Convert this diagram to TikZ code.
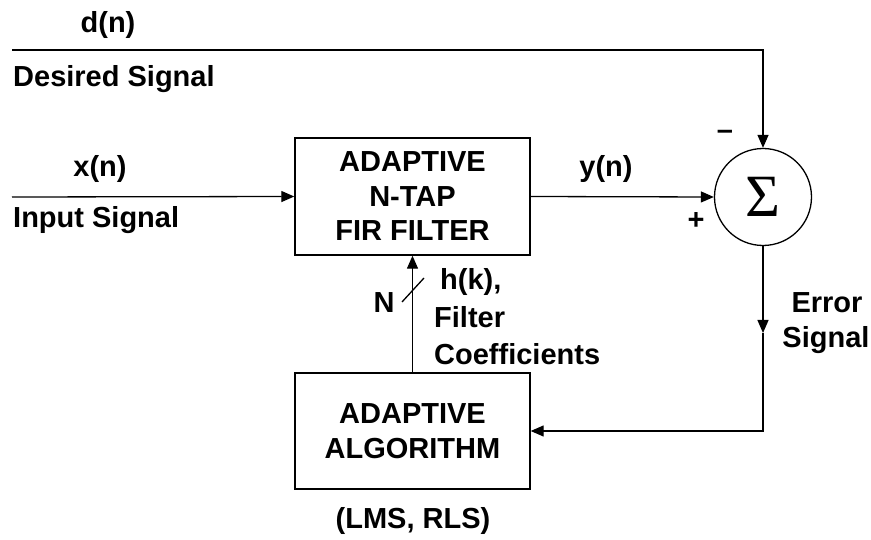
\documentclass[tikz,border=0pt]{standalone}
\usepackage{fontspec}
\setmainfont{Liberation Sans}
\newfontfamily\sigmafont{Liberation Serif}
\usetikzlibrary{arrows.meta}
\begin{document}
\begin{tikzpicture}[x=1pt,y=-1pt,
  lbl/.style={font=\bfseries\fontsize{29}{35}\selectfont, inner sep=0pt},
  blockbox/.style={draw, line width=1.4pt, minimum width=235pt, align=center,
    font=\bfseries\fontsize{29}{34.5}\selectfont},
  wire/.style={line width=1.3pt},
  arr/.style={wire, -{Triangle[length=13pt,width=11pt]}}]
\useasboundingbox (0,0) rectangle (871,540);
% blocks
\node[blockbox, minimum height=117pt] (fir) at (412.5,196.5) {ADAPTIVE\\N-TAP\\FIR FILTER};
\node[blockbox, minimum height=116pt] (alg) at (412.5,431) {ADAPTIVE\\ALGORITHM};
\node[draw, circle, line width=1.3pt, minimum size=97pt, inner sep=0pt,
  font=\sigmafont\fontsize{60}{60}\selectfont] (sum) at (763,197) {Σ};
% coordinates
\coordinate (dstart) at (12,50);
\coordinate (dcorner) at (763,50);
\coordinate (xstart) at (12,197);
\coordinate (ecorner) at (763,431);
\coordinate (emid) at (763,333);
\coordinate (sl1) at (402,302);
\coordinate (sl2) at (424,278);
% connectors
\draw[arr] (dstart) -- (dcorner) -- (sum.north);
\draw[arr] (xstart) -- (fir.west);
\draw[arr] (fir.east) -- (sum.west);
\draw[arr] (alg.north) -- (fir.south);
\draw[arr] (sum.south) -- (emid);
\draw[arr] (emid) -- (ecorner) -- (alg.east);
\draw[wire] (sl1) -- (sl2);
% labels
\node[lbl, anchor=base] (dn) at (108,33) {d(n)};
\node[lbl, anchor=base west] (ds) at (13,87) {Desired Signal};
\node[lbl, anchor=base] (xn) at (100,177) {x(n)};
\node[lbl, anchor=base west] (is) at (13,228) {Input Signal};
\node[lbl, anchor=base] (yn) at (606,177) {y(n)};
\node[lbl] (plus) at (696,221) {+};
\node[lbl] (minus) at (725,135) {–};
\node[lbl, anchor=base] (nn) at (384,313) {N};
\node[lbl, anchor=base west] (hk) at (440,290) {h(k),};
\node[lbl, anchor=base west] (fl) at (434,328) {Filter};
\node[lbl, anchor=base west] (co) at (434,365) {Coefficients};
\node[lbl, anchor=base] (er) at (827,313) {Error};
\node[lbl, anchor=base] (sg) at (826,348) {Signal};
\node[lbl, anchor=base] (lms) at (413,528) {(LMS, RLS)};
\end{tikzpicture}
\end{document}
